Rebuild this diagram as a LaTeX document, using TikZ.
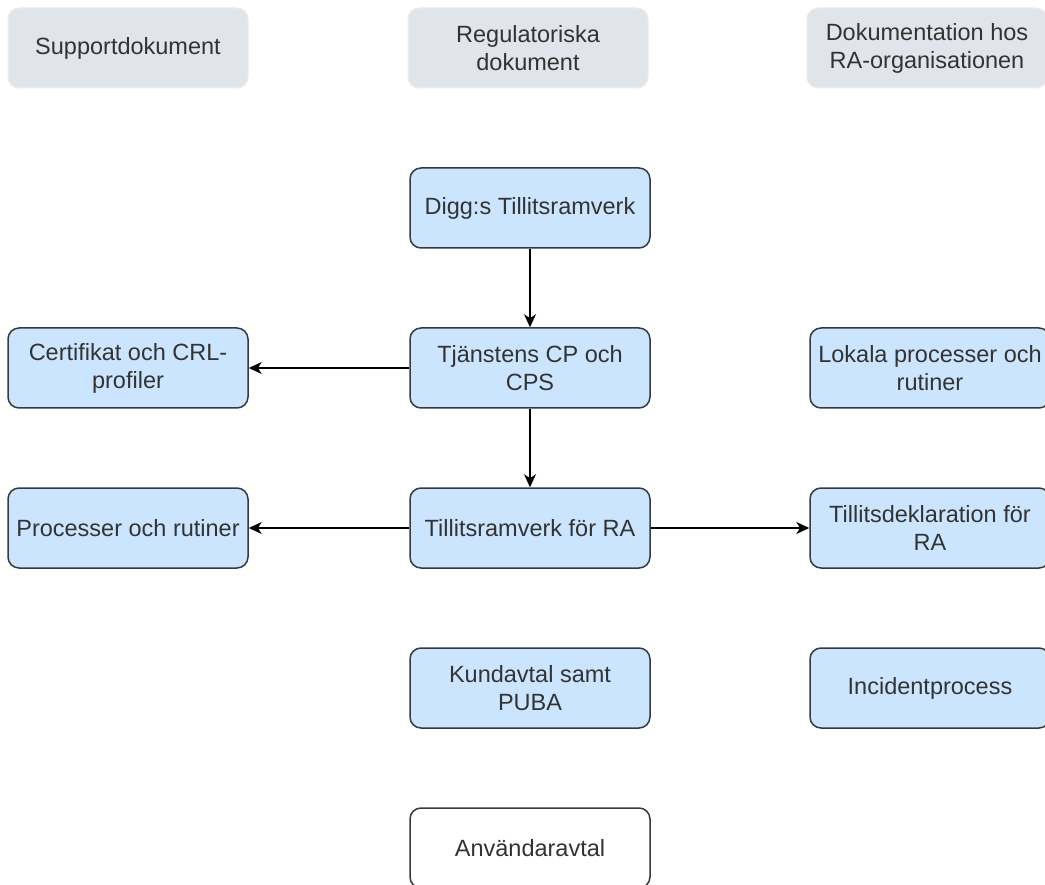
\documentclass[tikz,border=0pt]{standalone}
\usepackage{fontspec}
\setmainfont{Liberation Sans}
\usetikzlibrary{arrows.meta}
\definecolor{hdrfill}{HTML}{E1E4EA}
\definecolor{hdrline}{HTML}{EAECF0}
\definecolor{boxfill}{HTML}{CCE5FF}
\definecolor{boxline}{HTML}{36393D}
\definecolor{txt}{HTML}{333333}
\begin{document}
\begin{tikzpicture}[x=1pt,y=-1pt,
  base/.style={rounded corners=11pt, minimum width=240pt, minimum height=80pt,
    inner sep=0pt, align=center, text=txt,
    font=\fontsize{23.5}{28}\selectfont},
  hdr/.style={base, fill=hdrfill, draw=hdrline, line width=1pt},
  bluebox/.style={base, fill=boxfill, draw=boxline, line width=1.5pt},
  whitebox/.style={base, fill=white, draw=boxline, line width=1.5pt},
  conn/.style={draw=black, line width=1.5pt, -{Triangle[length=13pt,width=12pt,inset=4pt]}}
]
\useasboundingbox (0,0) rectangle (1045,885);
\begin{scope}
\clip (0,0) rectangle (1045,885);
% headers
\node[hdr] (h1) at (128,48) {Supportdokument};
\node[hdr] (h2) at (528,48) {Regulatoriska\\dokument};
\node[hdr] (h3) at (927,48) {Dokumentation hos\\RA-organisationen};
% middle column
\node[bluebox] (digg) at (530,208) {Digg:s Tillitsramverk};
\node[bluebox] (cp) at (530,368) {Tjänstens CP och\\CPS};
\node[bluebox] (tra) at (530,528) {Tillitsramverk för RA};
\node[bluebox] (kund) at (530,688) {Kundavtal samt\\PUBA};
\node[whitebox] (anv) at (530,848) {Användaravtal};
% left column
\node[bluebox] (cert) at (128,368) {Certifikat och CRL-\\profiler};
\node[bluebox] (proc) at (128,528) {Processer och rutiner};
% right column
\node[bluebox] (lok) at (930,368) {Lokala processer och\\rutiner};
\node[bluebox] (tdek) at (930,528) {Tillitsdeklaration för\\RA};
\node[bluebox] (inc) at (930,688) {Incidentprocess};
% connectors
\draw[conn] (digg) -- (cp);
\draw[conn] (cp) -- (tra);
\draw[conn] (cp) -- (cert);
\draw[conn] (tra) -- (proc);
\draw[conn] (tra) -- (tdek);
\end{scope}
\end{tikzpicture}
\end{document}
